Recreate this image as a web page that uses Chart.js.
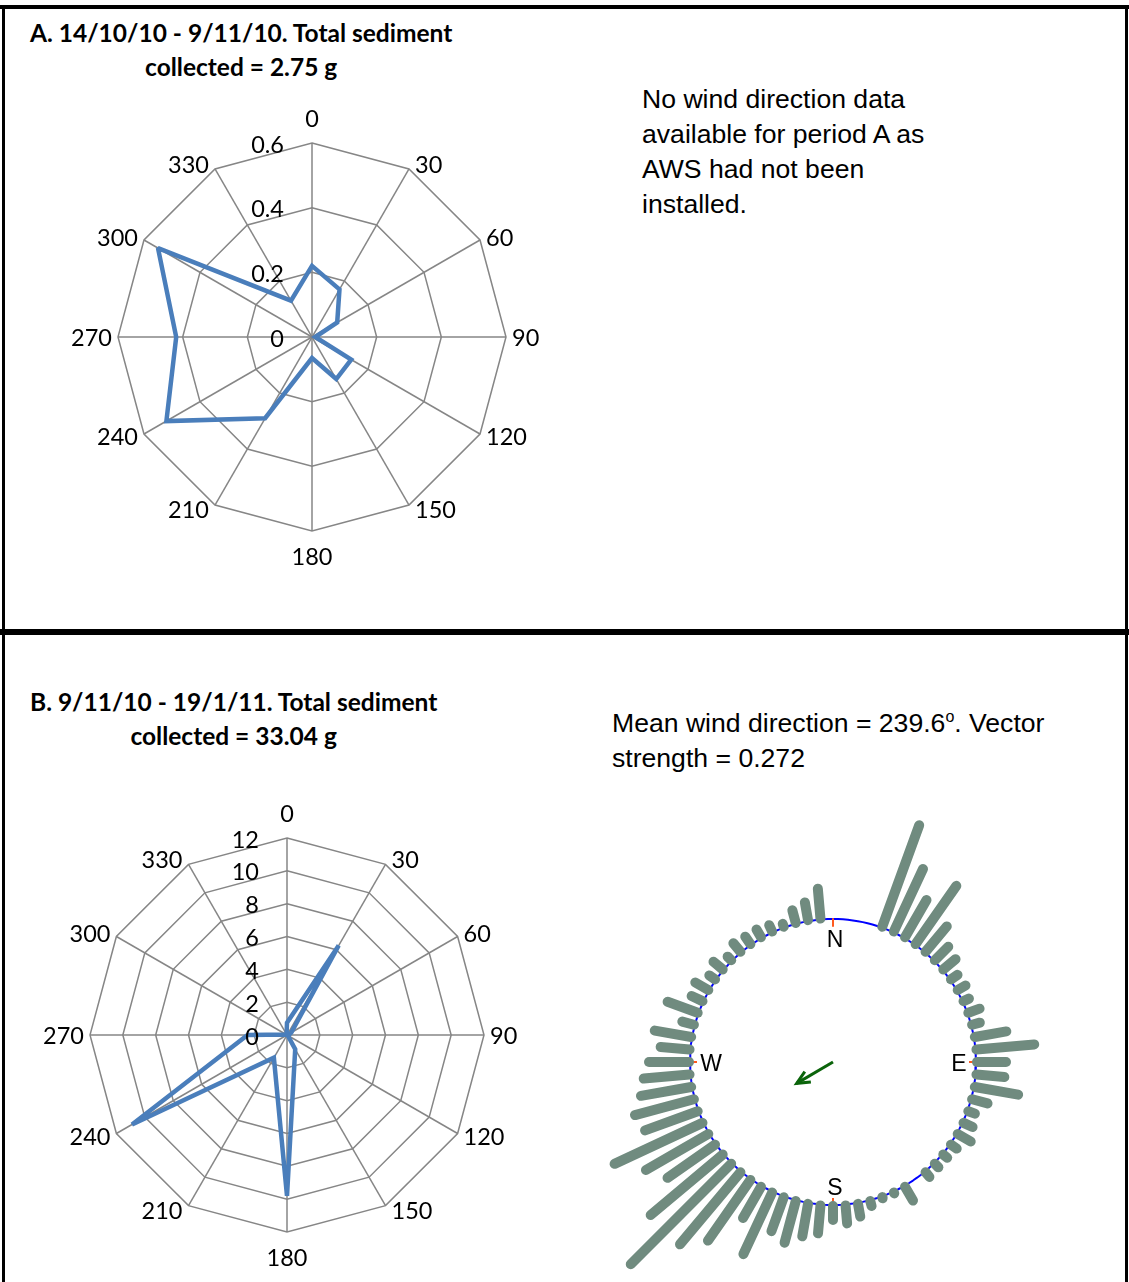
<!DOCTYPE html>
<html>
<head>
<meta charset="utf-8">
<script src="https://cdn.jsdelivr.net/npm/chart.js@4.4.1/dist/chart.umd.min.js"></script>
<style>
  html, body { margin: 0; padding: 0; background: #fff; }
  body { width: 1129px; height: 1282px; position: relative; overflow: hidden; }
  .rule { position: absolute; background: #000; }
  .title { position: absolute; font-family: Lato, sans-serif; font-weight: bold; font-size: 24.5px;
           line-height: 34px; text-align: center; color: #000; white-space: nowrap; }
  .note { position: absolute; font-family: "Liberation Sans", Arial, sans-serif; font-size: 26.6px;
          line-height: 35px; color: #000; white-space: nowrap; }
  .note sup { font-size: 16px; vertical-align: 10px; line-height: 0; }
  canvas { position: absolute; }
</style>
</head>
<body>

<div class="rule" style="left:0;top:5px;width:1129px;height:4px"></div>
<div class="rule" style="left:2px;top:5px;width:3px;height:1282px"></div>
<div class="rule" style="left:1125px;top:5px;width:3px;height:1282px"></div>
<div class="rule" style="left:0;top:629px;width:1129px;height:6px"></div>

<div class="title" style="left:30px;top:16px">A. 14/10/10 - 9/11/10. Total sediment<br>collected = 2.75 g</div>
<div class="note" style="left:642px;top:82px">No wind direction data<br>available for period A as<br>AWS had not been<br>installed.</div>

<div class="title" style="left:30px;top:685px">B. 9/11/10 - 19/1/11. Total sediment<br>collected = 33.04 g</div>
<div class="note" style="left:612px;top:706px">Mean wind direction = 239.6<sup>o</sup>. Vector<br>strength = 0.272</div>

<canvas id="radarA" width="508" height="508" style="left:58px;top:83px;width:508px;height:508px"></canvas>
<canvas id="radarB" width="514" height="514" style="left:30px;top:778px;width:514px;height:514px"></canvas>
<canvas id="rose" width="580" height="580" style="left:543px;top:772px;width:580px;height:580px"></canvas>

<script>
// sediment collected per direction sector
const directions = ['0', '30', '60', '90', '120', '150', '180', '210', '240', '270', '300', '330'];
const sedimentA = [0.22, 0.17, 0.09, 0.01, 0.14, 0.15, 0.065, 0.29, 0.52, 0.42, 0.55, 0.13];
const sedimentB = [0.75, 6.3, 0.3, 0.1, 0.05, 1.0, 9.8, 1.6, 10.9, 2.4, 0.05, 0.05];

// wind direction histogram, 5 degree bins
const windBins = [0, 5, 10, 15, 20, 25, 30, 35, 40, 45, 50, 55, 60, 65, 70, 75, 80, 85,
  90, 95, 100, 105, 110, 115, 120, 125, 130, 135, 140, 145, 150, 155, 160, 165, 170, 175,
  180, 185, 190, 195, 200, 205, 210, 215, 220, 225, 230, 235, 240, 245, 250, 255, 260, 265,
  270, 275, 280, 285, 290, 295, 300, 305, 310, 315, 320, 325, 330, 335, 340, 345, 350, 355];
const windCounts = [0, 0, 0, 0, 108, 69, 43, 71, 33, 19, 16, 8, 9, 6, 12, 8, 32, 58,
  29, 28, 44, 16, 7, 10, 15, 7, 5, 5, 6, 0, 16, 1, 1, 5, 13, 18,
  14, 28, 33, 43, 36, 68, 36, 74, 94, 142, 94, 58, 72, 97, 56, 61, 51, 46,
  40, 29, 37, 12, 32, 12, 15, 7, 12, 5, 11, 9, 9, 7, 3, 13, 18, 30];
const compass = ['N', 'E', 'S', 'W'];
const compassAngles = [0, 90, 180, 270];
const meanDirection = 239.6;
const vectorStrength = 0.272;

Chart.defaults.font.family = 'Lato';
Chart.defaults.color = '#000';

const gridGrey = '#868686';
const lineBlue = '#4a7ebb';
const labelFont = '23.5px Lato';

// axis and tick labels placed the way Excel puts them round a radar
const radarLabels = {
  id: 'radarLabels',
  beforeDatasetsDraw(chart) {
    // keep the spikes from growing long miter points
    chart.ctx.miterLimit = 2;
  },
  afterDraw(chart) {
    const s = chart.scales.r;
    const ctx = chart.ctx;
    ctx.save();
    ctx.font = labelFont;
    ctx.fillStyle = '#000';
    ctx.textBaseline = 'middle';
    directions.forEach((lab, i) => {
      const p = s.getPointPosition(i, s.drawingArea);
      const a = s.getIndexAngle(i);
      const sin = Math.sin(a), cos = Math.cos(a);
      let x = p.x, y = p.y;
      if (Math.abs(sin) < 0.01) {
        ctx.textAlign = 'center';
        y -= cos * 25;
      } else {
        ctx.textAlign = sin > 0 ? 'left' : 'right';
        x += sin > 0 ? 6 : -6;
        y -= cos * 5.5;
      }
      ctx.fillText(lab, x, y + 1);
    });
    ctx.textAlign = 'right';
    s.ticks.forEach(t => {
      const y = s.yCenter - s.getDistanceFromCenterForValue(t.value) + 2;
      ctx.fillText(t.label, s.xCenter - 28, y);
    });
    ctx.restore();
  }
};

function radar(id, values, max, step) {
  return new Chart(document.getElementById(id), {
    type: 'radar',
    data: {
      labels: directions,
      datasets: [{
        data: values,
        borderColor: lineBlue,
        borderWidth: 4.5,
        backgroundColor: 'transparent',
        fill: false,
        pointRadius: 0
      }]
    },
    options: {
      responsive: false,
      animation: false,
      layout: { padding: 60 },
      plugins: { legend: { display: false }, tooltip: { enabled: false } },
      scales: {
        r: {
          min: 0,
          max: max,
          ticks: { stepSize: step, display: false },
          grid: { color: gridGrey, lineWidth: 1.5 },
          angleLines: { color: gridGrey, lineWidth: 1.5 },
          pointLabels: { display: false }
        }
      }
    },
    plugins: [radarLabels]
  });
}

radar('radarA', sedimentA, 0.6, 0.2);
radar('radarB', sedimentB, 12, 2);

// circular histogram of wind directions
const ringRadius = 143;
const barGap = 1;
const arrowScale = 155;
const barColour = '#708b7f';

function polar(deg, r) {
  const a = deg * Math.PI / 180;
  return { x: r * Math.sin(a), y: r * Math.cos(a) };
}

const roseSets = [];
windBins.forEach((deg, i) => {
  const v = windCounts[i];
  if (!v) return;
  roseSets.push({
    data: [polar(deg, ringRadius + barGap), polar(deg, ringRadius + barGap + v)],
    borderColor: barColour,
    borderWidth: 10,
    borderCapStyle: 'round',
    borderJoinStyle: 'round',
    order: 0
  });
});

const ringPts = [];
for (let d = 0; d <= 360; d += 2) ringPts.push(polar(d, ringRadius));
roseSets.push({ data: ringPts, borderColor: '#0000ff', borderWidth: 2, borderJoinStyle: 'round', order: 2 });

compassAngles.forEach(deg => {
  roseSets.push({
    data: [polar(deg, ringRadius), polar(deg, ringRadius - 7)],
    borderColor: '#ff5a1f', borderWidth: 2, borderJoinStyle: 'round', order: 1
  });
});

const tipLen = vectorStrength * arrowScale;
const tip = polar(meanDirection, tipLen);
roseSets.push({ data: [{ x: 0, y: 0 }, tip], borderColor: '#0b640b', borderWidth: 3, borderJoinStyle: 'round', order: 0 });
const back = polar(meanDirection, tipLen - 13);
const perp = polar(meanDirection + 90, 6);
roseSets.push({
  data: [{ x: back.x + perp.x, y: back.y + perp.y }, tip, { x: back.x - perp.x, y: back.y - perp.y }],
  borderColor: '#0b640b', borderWidth: 3, borderJoinStyle: 'miter', order: 0
});

roseSets.forEach(ds => {
  ds.showLine = true;
  ds.pointRadius = 0;
  ds.tension = 0;
});

const compassLabels = {
  id: 'compassLabels',
  afterDatasetsDraw(chart) {
    const sx = chart.scales.x, sy = chart.scales.y;
    const ctx = chart.ctx;
    ctx.save();
    ctx.font = '23px "Liberation Sans", Arial';
    ctx.fillStyle = '#000';
    ctx.textAlign = 'center';
    ctx.textBaseline = 'middle';
    compass.forEach((txt, i) => {
      const p = polar(compassAngles[i], ringRadius - 19);
      ctx.fillText(txt, sx.getPixelForValue(p.x) + 2, sy.getPixelForValue(p.y) + 3);
    });
    ctx.restore();
  }
};

new Chart(document.getElementById('rose'), {
  type: 'scatter',
  data: { datasets: roseSets },
  options: {
    responsive: false,
    animation: false,
    layout: { padding: 0 },
    plugins: { legend: { display: false }, tooltip: { enabled: false } },
    scales: {
      x: { type: 'linear', min: -290, max: 290, display: false },
      y: { type: 'linear', min: -290, max: 290, display: false }
    }
  },
  plugins: [compassLabels]
});
</script>
</body>
</html>
